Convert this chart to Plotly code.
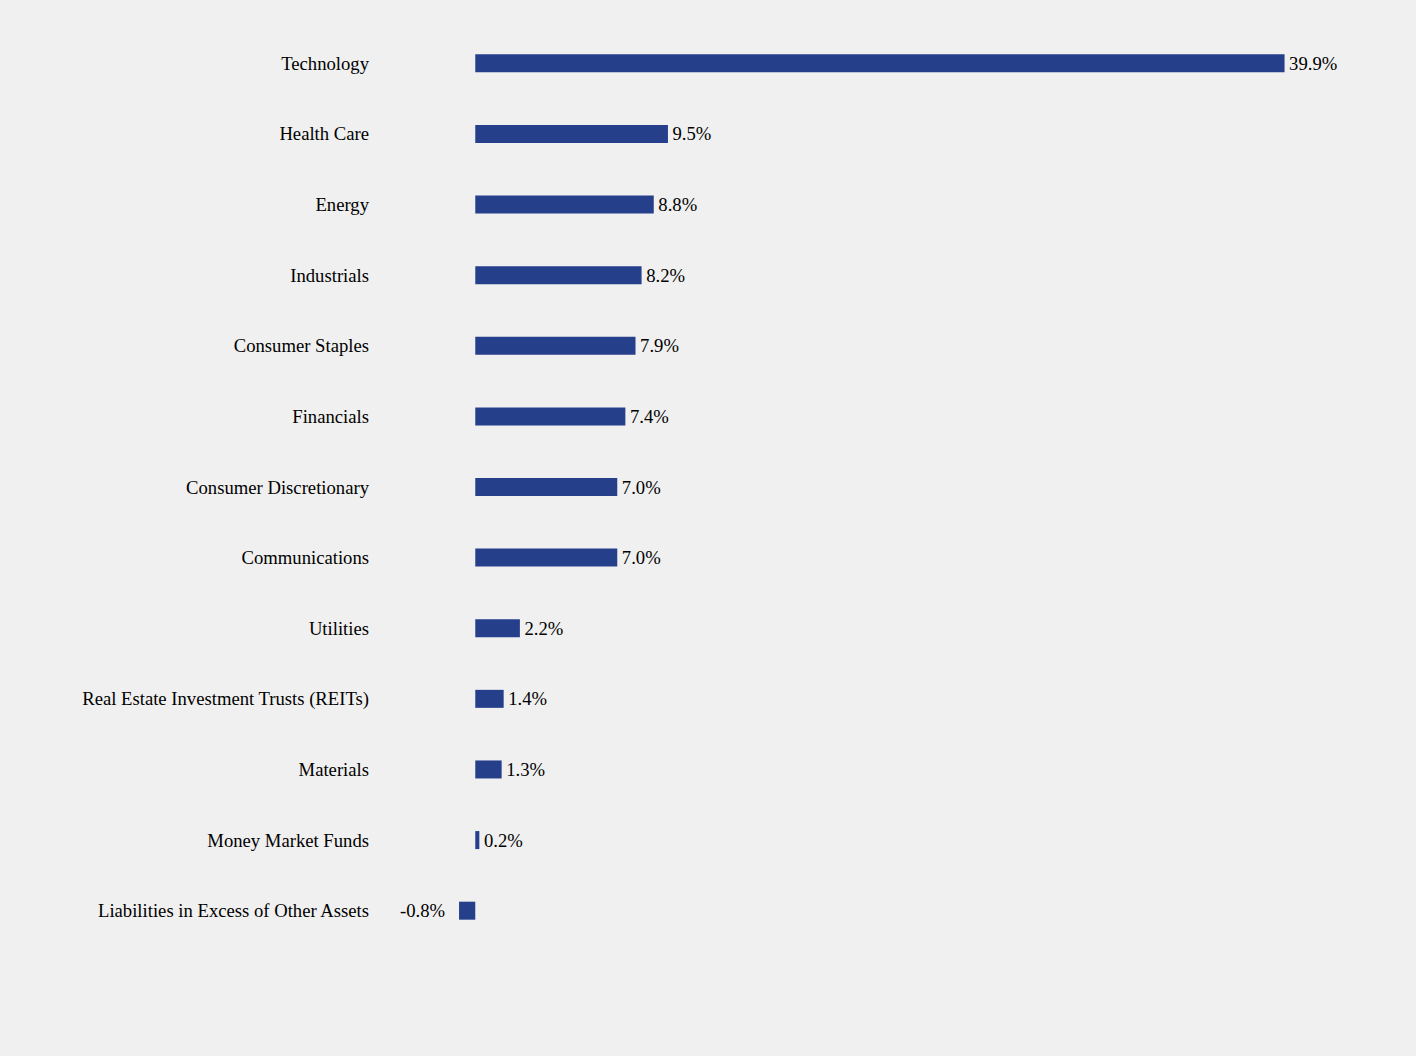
import plotly.graph_objects as go

categories = ["Technology", "Health Care", "Energy", "Industrials", "Consumer Staples",
              "Financials", "Consumer Discretionary", "Communications", "Utilities",
              "Real Estate Investment Trusts (REITs)", "Materials", "Money Market Funds",
              "Liabilities in Excess of Other Assets"]
values = [39.9, 9.5, 8.8, 8.2, 7.9, 7.4, 7.0, 7.0, 2.2, 1.4, 1.3, 0.2, -0.8]
labels = [("\u200a" + f"{v:.1f}%") if v >= 0 else (f"{v:.1f}%" + "\u00a0\u00a0\u200a")
          for v in values]

FONT = "Liberation Serif"
FS = 18.67

fig = go.Figure(go.Bar(
    x=values, y=categories, orientation="h",
    text=labels, textposition="outside", cliponaxis=False, constraintext="none",
    textfont=dict(family=FONT, size=FS, color="#000000"),
    outsidetextfont=dict(family=FONT, size=FS, color="#000000"),
    marker=dict(color="#263F8B", line=dict(width=0)),
    width=0.255,
    hoverinfo="skip",
))
fig.update_layout(
    width=1416, height=1056,
    paper_bgcolor="#F0F0F0", plot_bgcolor="#F0F0F0",
    margin=dict(l=384, r=28, t=28, b=110),
    font=dict(family=FONT, size=FS, color="#000000"),
    showlegend=False,
    xaxis=dict(range=[-4.5, 45], visible=False, showgrid=False, zeroline=False),
    yaxis=dict(autorange="reversed", showgrid=False, zeroline=False, ticks="",
               showline=False, ticklabelstandoff=14,
               tickfont=dict(family=FONT, size=FS, color="#000000")),
)
fig.write_html("out.html", config={"displayModeBar": False},
               post_script="document.body.style.margin='0';document.body.style.background='#F0F0F0';")
